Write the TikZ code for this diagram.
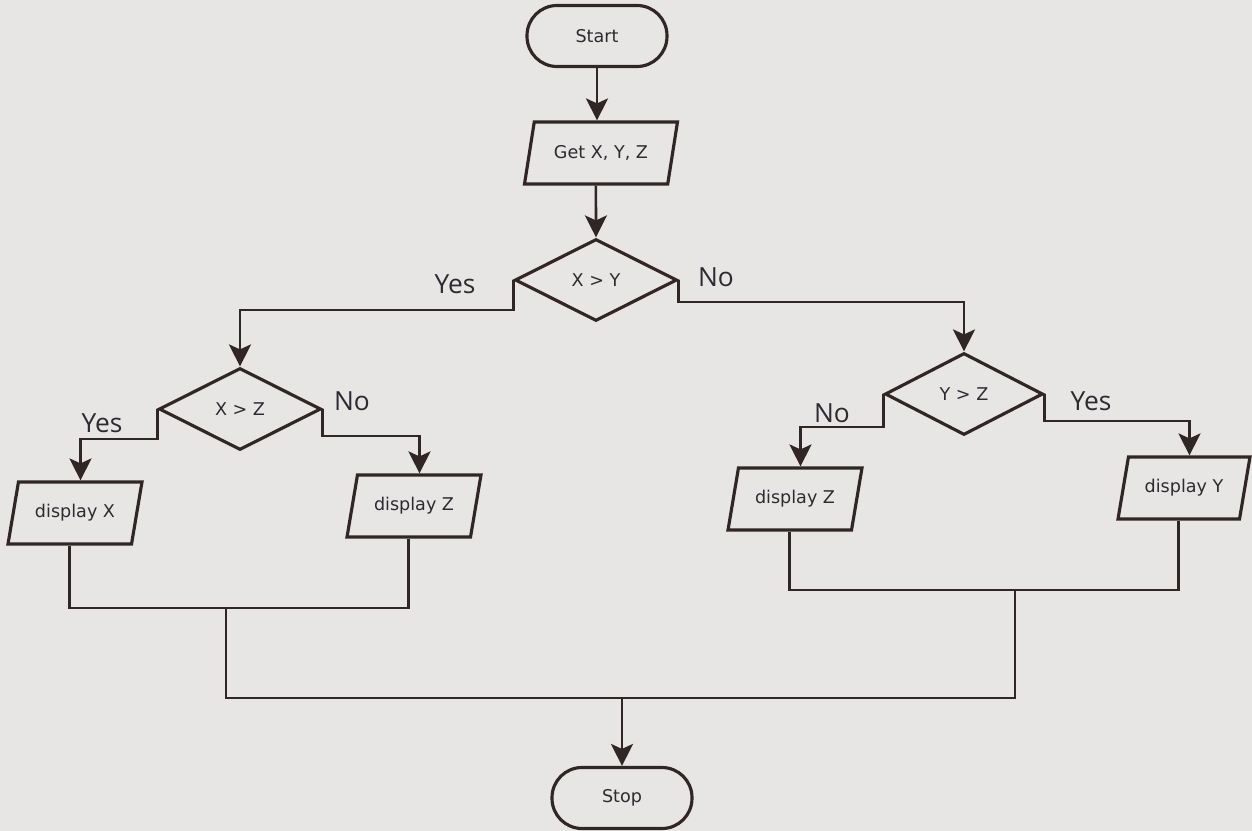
\documentclass[tikz,border=0pt]{standalone}
\usepackage{fontspec}
\setmainfont{DejaVu Sans}
\newfontfamily\labelfont{Open Sans}
\usetikzlibrary{positioning}
\usetikzlibrary{shapes.geometric}
\usetikzlibrary{arrows.meta}
\usetikzlibrary{calc}

\definecolor{paper}{RGB}{232,230,228}
\definecolor{ink}{RGB}{48,38,38}
\definecolor{txt}{RGB}{45,42,50}

\tikzset{
	boxtext/.style={text=txt, font=\fontsize{10}{12}\selectfont},
	terminal/.style={draw=ink, line width=1.8pt, rectangle, rounded corners=0.6cm, minimum width=2.8cm, minimum height=1.22cm, boxtext},
	io/.style={draw=ink, line width=1.8pt, trapezium, trapezium left angle=70, trapezium right angle=110, trapezium stretches body=true, minimum width=2.68cm, minimum height=1.24cm, boxtext},
	decision/.style={draw=ink, line width=1.8pt, diamond, aspect=2, inner sep=0pt, minimum width=3.24cm, minimum height=1.64cm, boxtext},
	arr/.style={draw=ink, line width=1.5pt, -{Stealth[length=0.44cm, width=0.44cm, inset=0.1cm]}},
	link/.style={draw=ink, line width=1.3pt},
	lbl/.style={text=txt, font=\labelfont\fontsize{15}{18}\selectfont}
}

\begin{document}
\begin{tikzpicture}[x=0.02cm, y=-0.02cm]
			% paper and frame of the picture
			\fill[paper] (0,0) rectangle (1252,831);

			% the shapes, placed at the pixel positions of the scan
			\node[terminal] (start) at (597,36) {Start};
			\node[io, minimum width=3.06cm] (get) at (601,153) {Get X, Y, Z};
			\node[decision] (xy) at (596,280) {X > Y};
			\node[decision] (xz) at (240,409) {X > Z};
			\node[decision, minimum width=3.16cm] (yz) at (964,394) {Y > Z};
			\node[io] (dx) at (75,513) {display X};
			\node[io] (dz1) at (414,506) {display Z};
			\node[io] (dz2) at (795,499) {display Z};
			\node[io, minimum width=2.64cm] (dy) at (1184,488) {display Y};
			\node[terminal] (stop) at (622,798) {Stop};

			% branch labels
			\node[lbl] (xyyes) at (455,284) {Yes};
			\node[lbl] (xyno) at (716,277) {No};
			\node[lbl] (xzyes) at (102,423) {Yes};
			\node[lbl] (xzno) at (352,401) {No};
			\node[lbl] (yzno) at (832,413) {No};
			\node[lbl] (yzyes) at (1091,401) {Yes};

			% arrows down the tree
			\draw[arr] (start.south) -- (start.south |- get.north);
			\draw[arr] (get.bottom side) -- (xy.north);
			\draw[arr] (xy.west) -- ++(0,30) -| (xz.north);
			\draw[arr] (xy.east) -- ++(0,22) -| (yz.north);
			\draw[arr] (xz.west) -- ++(0,30) -| (dx.top side);
			\draw[arr] (xz.east) -- ++(0,27) -| (dz1.top side);
			\draw[arr] (yz.west) -- ++(0,33) -| (dz2.top side);
			\draw[arr] (yz.east) -- ++(0,27) -| (dy.top side);

			% joining lines to the end
			\coordinate (jl) at (226,608);
			\coordinate (jr) at (1015,590);
			\coordinate (jm) at (622,698);
			\draw[link] (dx.bottom side) |- (jl) -| (dz1.bottom side);
			\draw[link] (dz2.bottom side) |- (jr) -| (dy.bottom side);
			\draw[link] (jl) |- (jm) -| (jr);
			\draw[arr] (jm) -- (stop.north);
\end{tikzpicture}
\end{document}
